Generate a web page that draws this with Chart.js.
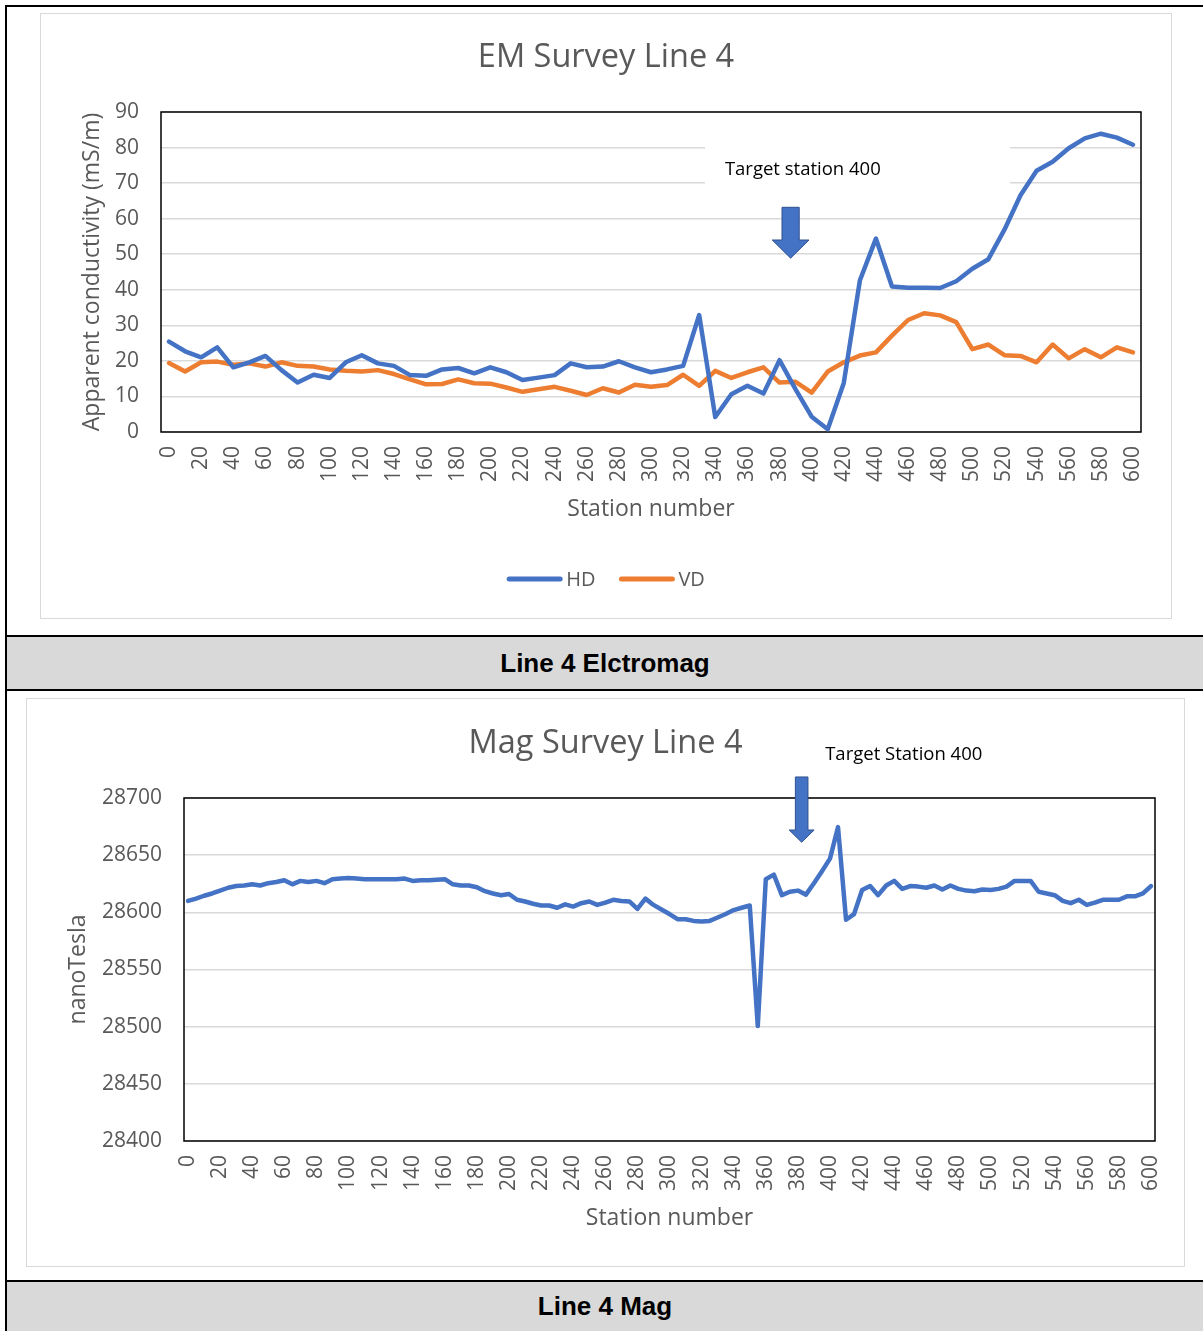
<!DOCTYPE html>
<html>
<head>
<meta charset="utf-8">
<script src="https://cdn.jsdelivr.net/npm/chart.js@4.4.0/dist/chart.umd.min.js"></script>
<style>
  body { margin: 0; background: #fff; }
  #page { position: relative; width: 1203px; height: 1331px; overflow: hidden; background: #fff; }
  .rule { position: absolute; background: #000; }
  .frame { position: absolute; box-sizing: border-box; border: 1px solid #d9d9d9; background: #fff; }
  .frame canvas { display: block; }
  .caption {
    position: absolute; left: 7px; right: 0; background: #d9d9d9; color: #000;
    font: bold 26px "Liberation Sans", Arial, sans-serif;
    display: flex; align-items: center; justify-content: center;
  }
</style>
</head>
<body>
<div id="page">
  <div class="rule" style="left:5px;top:5px;width:2px;height:1326px"></div>
  <div class="rule" style="left:5px;top:5px;width:1198px;height:2px"></div>

  <div class="frame" style="left:40px;top:13px;width:1132px;height:606px">
    <canvas id="emChart" width="1130" height="604"></canvas>
  </div>

  <div class="rule" style="left:5px;top:635px;width:1198px;height:2px"></div>
  <div class="caption" style="top:637px;height:52px">Line 4 Elctromag</div>
  <div class="rule" style="left:5px;top:689px;width:1198px;height:2px"></div>

  <div class="frame" style="left:26px;top:698px;width:1159px;height:569px">
    <canvas id="magChart" width="1157" height="567"></canvas>
  </div>

  <div class="rule" style="left:5px;top:1280px;width:1198px;height:2px"></div>
  <div class="caption" style="top:1282px;height:49px">Line 4 Mag</div>
</div>

<script>
// Station numbers (category axis)
const emStations = [0, 10, 20, 30, 40, 50, 60, 70, 80, 90, 100, 110, 120, 130, 140, 150, 160, 170, 180, 190,
    200, 210, 220, 230, 240, 250, 260, 270, 280, 290, 300, 310, 320, 330, 340, 350, 360, 370, 380, 390,
    400, 410, 420, 430, 440, 450, 460, 470, 480, 490, 500, 510, 520, 530, 540, 550, 560, 570, 580, 590, 600];

const hdValues = [25.4, 22.7, 21.0, 23.8, 18.2, 19.6, 21.4, 17.4, 13.9, 16.1, 15.2, 19.6, 21.6, 19.3, 18.6, 16.0,
    15.8, 17.6, 18.0, 16.5, 18.2, 16.8, 14.6, 15.3, 16.0, 19.3, 18.2, 18.4, 19.9, 18.2, 16.8, 17.6, 18.6, 32.9,
    4.2, 10.6, 13.0, 10.8, 20.2, 12.0, 4.3, 0.8, 13.8, 42.6, 54.4, 40.9, 40.6, 40.6, 40.5, 42.4, 45.9, 48.6,
    56.9, 66.6, 73.5, 76.0, 79.8, 82.6, 83.9, 82.8, 80.8];

const vdValues = [19.4, 17.0, 19.6, 19.8, 18.9, 19.3, 18.4, 19.6, 18.6, 18.4, 17.6, 17.2, 17.0, 17.4, 16.3, 14.8,
    13.4, 13.5, 14.8, 13.7, 13.6, 12.5, 11.3, 12.0, 12.7, 11.6, 10.4, 12.3, 11.1, 13.3, 12.7, 13.2, 16.1, 13.0,
    17.2, 15.2, 16.8, 18.2, 13.9, 14.1, 11.1, 17.0, 19.6, 21.5, 22.4, 27.1, 31.5, 33.4, 32.8, 30.9, 23.3, 24.6,
    21.6, 21.4, 19.6, 24.6, 20.7, 23.3, 21.0, 23.8, 22.4];

const magStations = [0, 5, 10, 15, 20, 25, 30, 35, 40, 45, 50, 55, 60, 65, 70, 75, 80, 85, 90, 95,
    100, 105, 110, 115, 120, 125, 130, 135, 140, 145, 150, 155, 160, 165, 170, 175, 180, 185, 190, 195,
    200, 205, 210, 215, 220, 225, 230, 235, 240, 245, 250, 255, 260, 265, 270, 275, 280, 285, 290, 295,
    300, 305, 310, 315, 320, 325, 330, 335, 340, 345, 350, 355, 360, 365, 370, 375, 380, 385, 390, 395,
    400, 405, 410, 415, 420, 425, 430, 435, 440, 445, 450, 455, 460, 465, 470, 475, 480, 485, 490, 495,
    500, 505, 510, 515, 520, 525, 530, 535, 540, 545, 550, 555, 560, 565, 570, 575, 580, 585, 590, 595, 600];

const magValues = [28610, 28612, 28614.5, 28616.5, 28619, 28621.5, 28623, 28623.5, 28624.5, 28623.5,
    28625.5, 28626.5, 28628, 28624.5, 28627.5, 28626.5, 28627.5, 28625.5, 28629, 28629.5,
    28630, 28629.5, 28629, 28629, 28629, 28629, 28629, 28629.5, 28627.5, 28628,
    28628, 28628.5, 28629, 28624.5, 28623.5, 28623.5, 28622, 28618.5, 28616.5, 28615,
    28616, 28611, 28609.5, 28607.5, 28606, 28606, 28604, 28607, 28605, 28608,
    28609.5, 28606.5, 28608.5, 28611, 28610, 28609.5, 28603, 28612, 28606.5, 28602.5,
    28598.5, 28594, 28594, 28592.5, 28592, 28592.5, 28595.5, 28598.5, 28602, 28604,
    28606, 28500.5, 28629, 28633, 28615, 28618, 28619, 28615.5, 28625.5, 28636,
    28647, 28674.5, 28593.5, 28598.5, 28619.5, 28623, 28615, 28623.5, 28627.5, 28620.5,
    28623, 28622.5, 28621.5, 28623.5, 28620, 28623.5, 28620.5, 28619, 28618.5, 28620,
    28619.5, 28620.5, 28622.5, 28627.5, 28627.5, 28627.5, 28618, 28616.5, 28615, 28610,
    28608, 28611, 28606.5, 28608.5, 28611, 28611, 28611, 28614, 28614, 28616.5, 28623];

// Labels actually printed under the x axis
const stationTickLabels = [0, 20, 40, 60, 80, 100, 120, 140, 160, 180, 200, 220, 240, 260, 280, 300,
    320, 340, 360, 380, 400, 420, 440, 460, 480, 500, 520, 540, 560, 580, 600];

const textGrey = "#595959";
const gridGrey = "#d9d9d9";
const fontFamily = "'Open Sans', 'Noto Sans', sans-serif";

Chart.defaults.font.family = fontFamily;
Chart.defaults.color = textGrey;

function stationTick(stations) {
    return (value, index) => stationTickLabels.includes(stations[index]) ? String(stations[index]) : "";
}

// Plot frame, white note box, target text and arrow, simple legend
const surveyDecor = {
    id: "surveyDecor",
    beforeDatasetsDraw(chart, args, opts) {
        const { ctx, chartArea: a, scales: { x, y } } = chart;
        ctx.save();
        if (opts.mask) {
            const m = opts.mask;
            const x0 = x.getPixelForValue(m.from), x1 = x.getPixelForValue(m.to);
            const y0 = y.getPixelForValue(m.top), y1 = y.getPixelForValue(m.bottom);
            ctx.fillStyle = "#fff";
            ctx.fillRect(x0, y0, x1 - x0, y1 - y0);
        }
        ctx.strokeStyle = "#000";
        ctx.lineWidth = 1.5;
        ctx.strokeRect(a.left, a.top, a.right - a.left, a.bottom - a.top);
        ctx.restore();
    },
    afterDatasetsDraw(chart, args, opts) {
        const { ctx, scales: { x, y } } = chart;
        ctx.save();

        const n = opts.note;
        ctx.font = `${n.size}px ${fontFamily}`;
        ctx.fillStyle = "#000";
        ctx.textAlign = "left";
        ctx.textBaseline = "middle";
        ctx.fillText(n.text, x.getPixelForValue(n.at), y.getPixelForValue(n.level));

        const ar = opts.arrow;
        const ax = x.getPixelForValue(ar.at);
        const top = y.getPixelForValue(ar.top);
        const neck = y.getPixelForValue(ar.neck);
        const tip = y.getPixelForValue(ar.tip);
        ctx.beginPath();
        ctx.moveTo(ax - ar.shaft, top);
        ctx.lineTo(ax + ar.shaft, top);
        ctx.lineTo(ax + ar.shaft, neck);
        ctx.lineTo(ax + ar.head, neck);
        ctx.lineTo(ax, tip);
        ctx.lineTo(ax - ar.head, neck);
        ctx.lineTo(ax - ar.shaft, neck);
        ctx.closePath();
        ctx.fillStyle = "#4472c4";
        ctx.fill();
        ctx.strokeStyle = "#2f528f";
        ctx.lineWidth = 1;
        ctx.stroke();

        if (opts.legendY) {
            const sets = chart.data.datasets;
            ctx.font = `20px ${fontFamily}`;
            const lineLen = 55, gap = 4, spacing = 24;
            const widths = sets.map(d => lineLen + gap + ctx.measureText(d.label).width);
            const total = widths.reduce((s, w) => s + w, 0) + spacing * (sets.length - 1);
            let lx = chart.width / 2 - total / 2;
            sets.forEach((d, i) => {
                ctx.beginPath();
                ctx.moveTo(lx + 2, opts.legendY);
                ctx.lineTo(lx + lineLen - 2, opts.legendY);
                ctx.strokeStyle = d.borderColor;
                ctx.lineWidth = 5;
                ctx.lineCap = "round";
                ctx.stroke();
                ctx.fillStyle = textGrey;
                ctx.textAlign = "left";
                ctx.textBaseline = "middle";
                ctx.fillText(d.label, lx + lineLen + gap, opts.legendY + 1);
                lx += widths[i] + spacing;
            });
        }
        ctx.restore();
    }
};

function lineSet(label, data, color) {
    return {
        label, data,
        borderColor: color,
        backgroundColor: color,
        borderWidth: 4.5,
        pointRadius: 0,
        tension: 0,
        fill: false,
        borderJoinStyle: "round",
        borderCapStyle: "round"
    };
}

function stationAxis(stations, rightGap) {
    return {
        type: "category",
        offset: true,
        grid: { display: false, drawTicks: false },
        border: { display: false },
        ticks: {
            autoSkip: false, minRotation: 90, maxRotation: 90, padding: 14,
            color: textGrey, font: { size: 21 }, callback: stationTick(stations)
        },
        title: { display: true, text: "Station number", color: textGrey, font: { size: 23 }, padding: { top: 0, bottom: 9.2 } },
        afterFit: s => {
            s.height = 100;
            s.paddingLeft = 0;
            s.paddingRight = rightGap;
        }
    };
}

function valueAxis(min, max, step, title, width) {
    return {
        min, max,
        ticks: { stepSize: step, padding: 22, color: textGrey, font: { size: 21 }, callback: v => String(v) },
        grid: { color: gridGrey, lineWidth: 1.5, drawTicks: false },
        border: { display: false },
        title: { display: true, text: title, color: textGrey, font: { size: 23 }, padding: { top: 37.2, bottom: 0 } },
        afterFit: s => { s.width = width; }
    };
}

new Chart(document.getElementById("emChart"), {
    type: "line",
    data: {
        labels: emStations,
        datasets: [lineSet("HD", hdValues, "#4472c4"), lineSet("VD", vdValues, "#ed7d31")]
    },
    options: {
        responsive: false,
        animation: false,
        events: [],
        layout: { padding: { left: 0, top: 0, right: 0, bottom: 86 } },
        scales: {
            x: stationAxis(emStations, 30),
            y: valueAxis(0, 90, 10, "Apparent conductivity (mS/m)", 120)
        },
        plugins: {
            legend: { display: false },
            tooltip: { enabled: false },
            title: {
                display: true, text: "EM Survey Line 4", color: textGrey,
                font: { size: 32.5, weight: "normal" }, padding: { top: 24.5, bottom: 34.5 }
            },
            surveyDecor: {
                mask: { from: 33.36, to: 52.35, top: 85, bottom: 60.5 },
                note: { text: "Target station 400", at: 34.6, level: 73.7, size: 18.5 },
                arrow: { at: 38.69, top: 63.2, neck: 54.0, tip: 48.9, shaft: 8.6, head: 18.4 },
                legendY: 565
            }
        }
    },
    plugins: [surveyDecor]
});

new Chart(document.getElementById("magChart"), {
    type: "line",
    data: {
        labels: magStations,
        datasets: [lineSet("Mag", magValues, "#4472c4")]
    },
    options: {
        responsive: false,
        animation: false,
        events: [],
        layout: { padding: { left: 0, top: 0, right: 0, bottom: 25 } },
        scales: {
            x: stationAxis(magStations, 29),
            y: valueAxis(28400, 28700, 50, "nanoTesla", 157)
        },
        plugins: {
            legend: { display: false },
            tooltip: { enabled: false },
            title: {
                display: true, text: "Mag Survey Line 4", color: textGrey,
                font: { size: 32.5, weight: "normal" }, padding: { top: 25.5, bottom: 34.5 }
            },
            surveyDecor: {
                note: { text: "Target Station 400", at: 79.4, level: 28737.6, size: 18.5 },
                arrow: { at: 76.47, top: 28718.4, neck: 28672, tip: 28661.3, shaft: 6.3, head: 12.5 }
            }
        }
    },
    plugins: [surveyDecor]
});
</script>
</body>
</html>
